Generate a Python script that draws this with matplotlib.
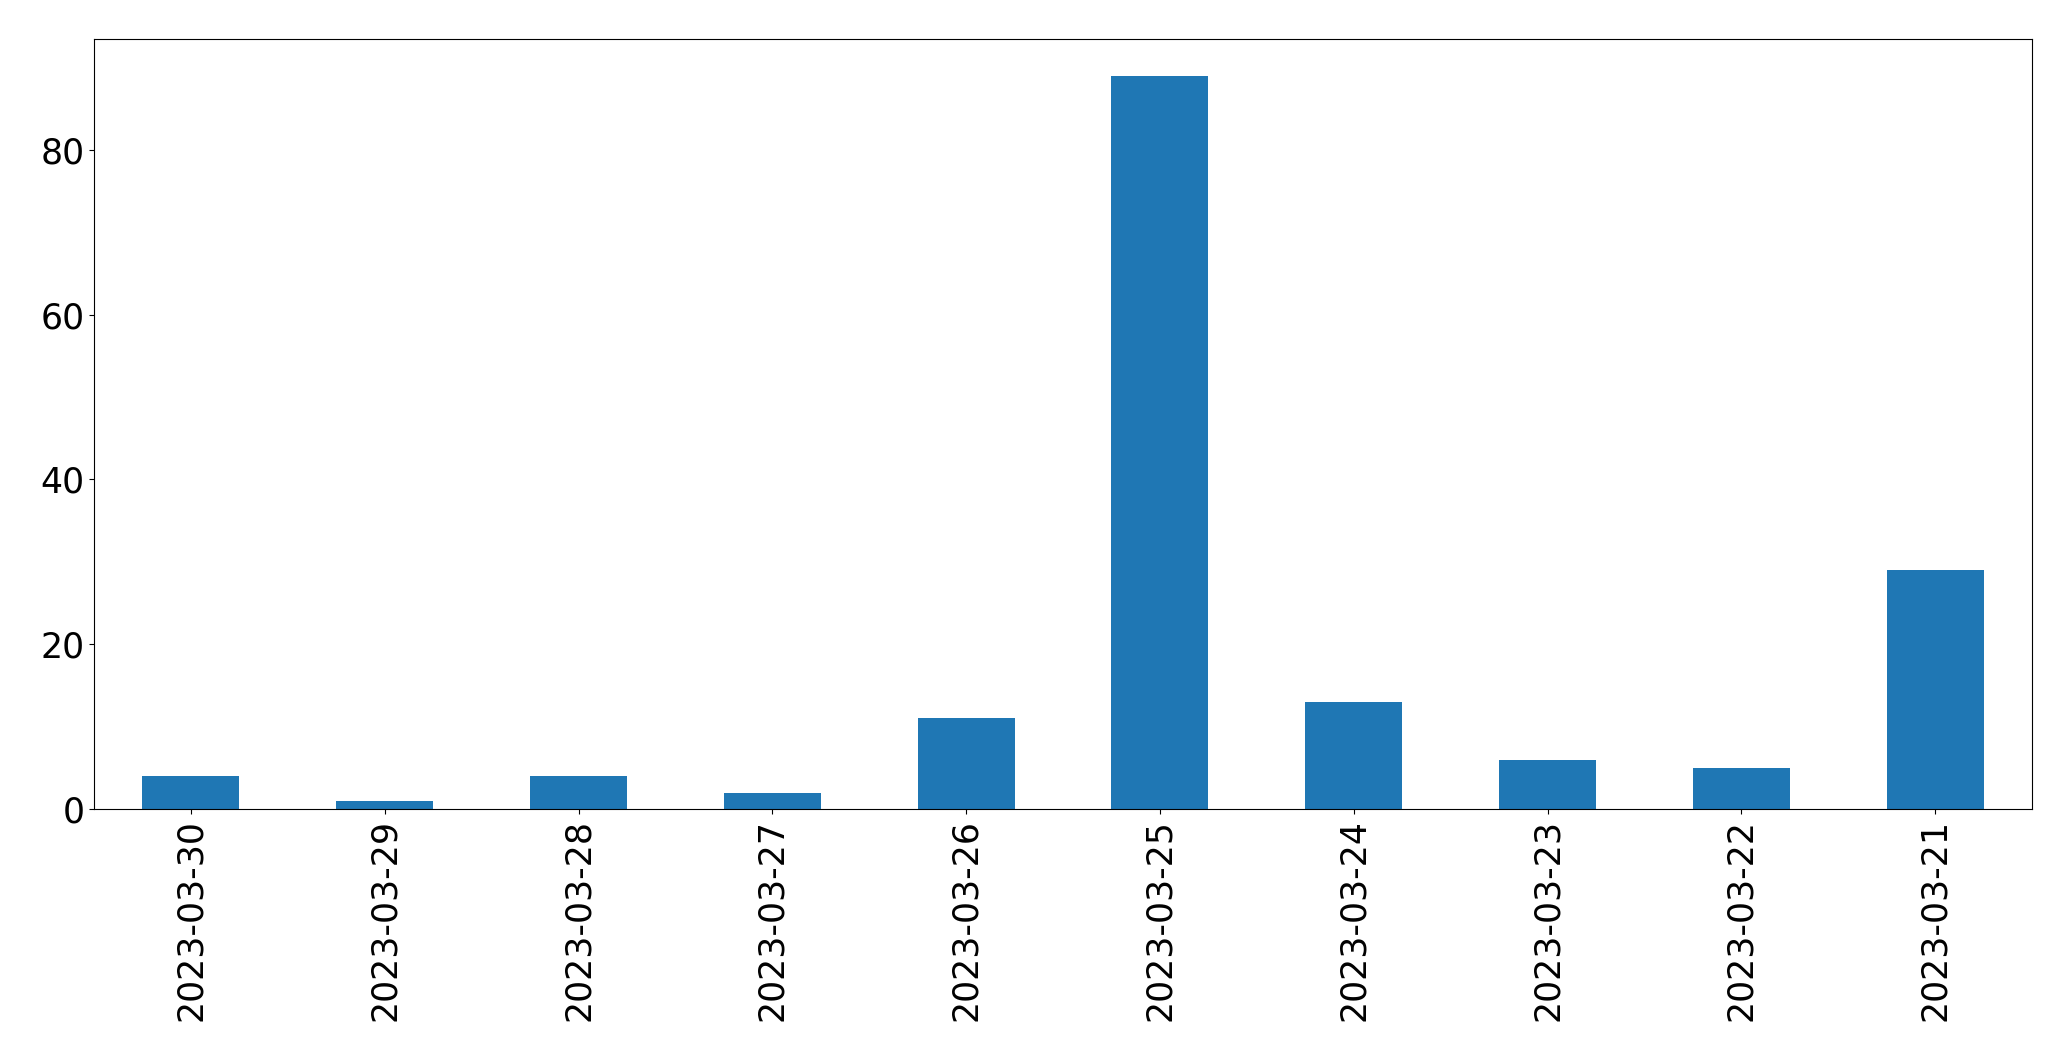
import matplotlib
matplotlib.use("Agg")
import matplotlib.pyplot as plt
import pandas as pd

dates = ["2023-03-30", "2023-03-29", "2023-03-28", "2023-03-27", "2023-03-26",
         "2023-03-25", "2023-03-24", "2023-03-23", "2023-03-22", "2023-03-21"]
counts = [4, 1, 4, 2, 11, 89, 13, 6, 5, 29]

series = pd.Series(counts, index=dates)

fig, ax = plt.subplots(figsize=(20.71, 10.61), dpi=100)
series.plot(kind="bar", ax=ax, color="#1f77b4", fontsize=25)
ax.tick_params(axis="both", labelsize=25)
fig.subplots_adjust(left=0.0454, right=0.9812, top=0.9632, bottom=0.2375)
fig.savefig("out.png", dpi=100)
plt.close(fig)
